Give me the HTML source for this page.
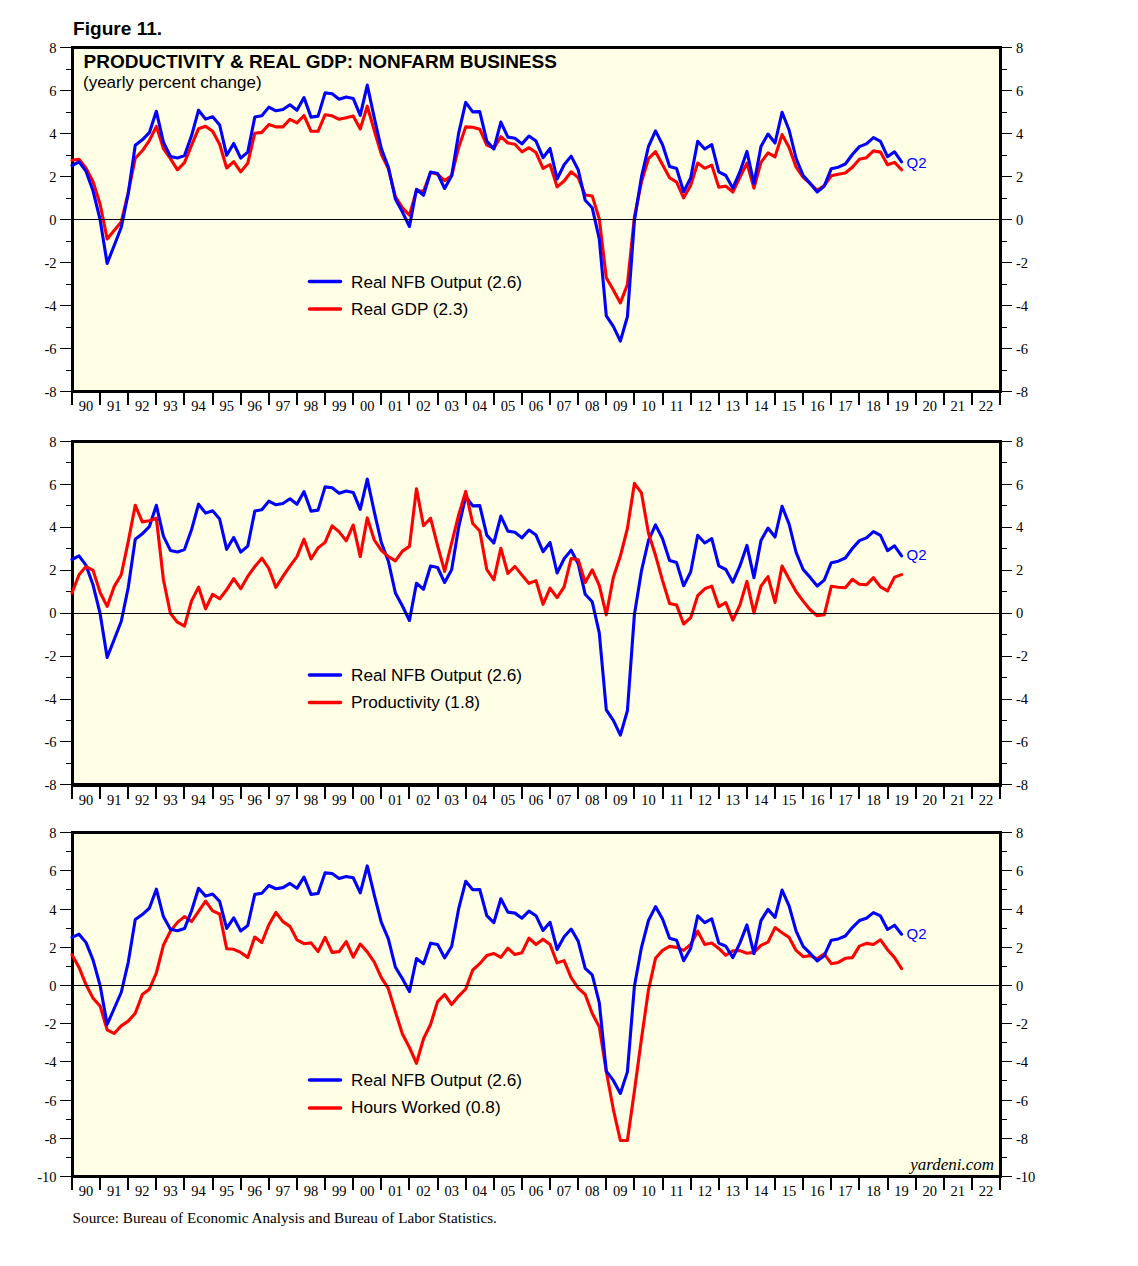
<!DOCTYPE html><html><head><meta charset="utf-8"><style>html,body{margin:0;padding:0;background:#fff;width:1138px;height:1266px;overflow:hidden}svg{display:block}</style></head><body>
<svg width="1138" height="1266" viewBox="0 0 1138 1266">
<text x="73" y="35" font-family="Liberation Sans, sans-serif" font-weight="bold" font-size="19.1">Figure 11.</text>
<rect x="72" y="49" width="927" height="341" fill="#FFFFE6"/>
<rect x="71" y="46" width="931" height="3" fill="#000"/>
<rect x="71" y="390" width="931" height="3" fill="#000"/>
<rect x="71" y="46" width="3" height="347" fill="#000"/>
<rect x="999" y="46" width="3" height="347" fill="#000"/>
<rect x="60" y="47" width="12" height="1" fill="#000"/>
<rect x="1001" y="47" width="11" height="1" fill="#000"/>
<text x="56.5" y="52.80" text-anchor="end" font-family="Liberation Serif, serif" font-size="14.5">8</text>
<text x="1016" y="52.80" font-family="Liberation Serif, serif" font-size="14.5">8</text>
<rect x="66" y="69" width="6" height="1" fill="#000"/>
<rect x="1001" y="69" width="6" height="1" fill="#000"/>
<rect x="60" y="90" width="12" height="1" fill="#000"/>
<rect x="1001" y="90" width="11" height="1" fill="#000"/>
<text x="56.5" y="95.80" text-anchor="end" font-family="Liberation Serif, serif" font-size="14.5">6</text>
<text x="1016" y="95.80" font-family="Liberation Serif, serif" font-size="14.5">6</text>
<rect x="66" y="112" width="6" height="1" fill="#000"/>
<rect x="1001" y="112" width="6" height="1" fill="#000"/>
<rect x="60" y="133" width="12" height="1" fill="#000"/>
<rect x="1001" y="133" width="11" height="1" fill="#000"/>
<text x="56.5" y="138.80" text-anchor="end" font-family="Liberation Serif, serif" font-size="14.5">4</text>
<text x="1016" y="138.80" font-family="Liberation Serif, serif" font-size="14.5">4</text>
<rect x="66" y="155" width="6" height="1" fill="#000"/>
<rect x="1001" y="155" width="6" height="1" fill="#000"/>
<rect x="60" y="176" width="12" height="1" fill="#000"/>
<rect x="1001" y="176" width="11" height="1" fill="#000"/>
<text x="56.5" y="181.80" text-anchor="end" font-family="Liberation Serif, serif" font-size="14.5">2</text>
<text x="1016" y="181.80" font-family="Liberation Serif, serif" font-size="14.5">2</text>
<rect x="66" y="198" width="6" height="1" fill="#000"/>
<rect x="1001" y="198" width="6" height="1" fill="#000"/>
<rect x="60" y="219" width="12" height="1" fill="#000"/>
<rect x="1001" y="219" width="11" height="1" fill="#000"/>
<text x="56.5" y="224.80" text-anchor="end" font-family="Liberation Serif, serif" font-size="14.5">0</text>
<text x="1016" y="224.80" font-family="Liberation Serif, serif" font-size="14.5">0</text>
<rect x="66" y="241" width="6" height="1" fill="#000"/>
<rect x="1001" y="241" width="6" height="1" fill="#000"/>
<rect x="60" y="262" width="12" height="1" fill="#000"/>
<rect x="1001" y="262" width="11" height="1" fill="#000"/>
<text x="56.5" y="267.80" text-anchor="end" font-family="Liberation Serif, serif" font-size="14.5">-2</text>
<text x="1016" y="267.80" font-family="Liberation Serif, serif" font-size="14.5">-2</text>
<rect x="66" y="284" width="6" height="1" fill="#000"/>
<rect x="1001" y="284" width="6" height="1" fill="#000"/>
<rect x="60" y="305" width="12" height="1" fill="#000"/>
<rect x="1001" y="305" width="11" height="1" fill="#000"/>
<text x="56.5" y="310.80" text-anchor="end" font-family="Liberation Serif, serif" font-size="14.5">-4</text>
<text x="1016" y="310.80" font-family="Liberation Serif, serif" font-size="14.5">-4</text>
<rect x="66" y="327" width="6" height="1" fill="#000"/>
<rect x="1001" y="327" width="6" height="1" fill="#000"/>
<rect x="60" y="348" width="12" height="1" fill="#000"/>
<rect x="1001" y="348" width="11" height="1" fill="#000"/>
<text x="56.5" y="353.80" text-anchor="end" font-family="Liberation Serif, serif" font-size="14.5">-6</text>
<text x="1016" y="353.80" font-family="Liberation Serif, serif" font-size="14.5">-6</text>
<rect x="66" y="370" width="6" height="1" fill="#000"/>
<rect x="1001" y="370" width="6" height="1" fill="#000"/>
<rect x="60" y="391" width="12" height="1" fill="#000"/>
<rect x="1001" y="391" width="11" height="1" fill="#000"/>
<text x="56.5" y="396.80" text-anchor="end" font-family="Liberation Serif, serif" font-size="14.5">-8</text>
<text x="1016" y="396.80" font-family="Liberation Serif, serif" font-size="14.5">-8</text>
<rect x="71" y="393" width="2" height="12" fill="#000"/>
<text x="86.06" y="411" text-anchor="middle" font-family="Liberation Serif, serif" font-size="14.5">90</text>
<rect x="99" y="393" width="2" height="12" fill="#000"/>
<text x="114.18" y="411" text-anchor="middle" font-family="Liberation Serif, serif" font-size="14.5">91</text>
<rect x="127" y="393" width="2" height="12" fill="#000"/>
<text x="142.30" y="411" text-anchor="middle" font-family="Liberation Serif, serif" font-size="14.5">92</text>
<rect x="155" y="393" width="2" height="12" fill="#000"/>
<text x="170.42" y="411" text-anchor="middle" font-family="Liberation Serif, serif" font-size="14.5">93</text>
<rect x="183" y="393" width="2" height="12" fill="#000"/>
<text x="198.54" y="411" text-anchor="middle" font-family="Liberation Serif, serif" font-size="14.5">94</text>
<rect x="212" y="393" width="2" height="12" fill="#000"/>
<text x="226.67" y="411" text-anchor="middle" font-family="Liberation Serif, serif" font-size="14.5">95</text>
<rect x="240" y="393" width="2" height="12" fill="#000"/>
<text x="254.79" y="411" text-anchor="middle" font-family="Liberation Serif, serif" font-size="14.5">96</text>
<rect x="268" y="393" width="2" height="12" fill="#000"/>
<text x="282.91" y="411" text-anchor="middle" font-family="Liberation Serif, serif" font-size="14.5">97</text>
<rect x="296" y="393" width="2" height="12" fill="#000"/>
<text x="311.03" y="411" text-anchor="middle" font-family="Liberation Serif, serif" font-size="14.5">98</text>
<rect x="324" y="393" width="2" height="12" fill="#000"/>
<text x="339.15" y="411" text-anchor="middle" font-family="Liberation Serif, serif" font-size="14.5">99</text>
<rect x="352" y="393" width="2" height="12" fill="#000"/>
<text x="367.27" y="411" text-anchor="middle" font-family="Liberation Serif, serif" font-size="14.5">00</text>
<rect x="380" y="393" width="2" height="12" fill="#000"/>
<text x="395.39" y="411" text-anchor="middle" font-family="Liberation Serif, serif" font-size="14.5">01</text>
<rect x="408" y="393" width="2" height="12" fill="#000"/>
<text x="423.51" y="411" text-anchor="middle" font-family="Liberation Serif, serif" font-size="14.5">02</text>
<rect x="437" y="393" width="2" height="12" fill="#000"/>
<text x="451.64" y="411" text-anchor="middle" font-family="Liberation Serif, serif" font-size="14.5">03</text>
<rect x="465" y="393" width="2" height="12" fill="#000"/>
<text x="479.76" y="411" text-anchor="middle" font-family="Liberation Serif, serif" font-size="14.5">04</text>
<rect x="493" y="393" width="2" height="12" fill="#000"/>
<text x="507.88" y="411" text-anchor="middle" font-family="Liberation Serif, serif" font-size="14.5">05</text>
<rect x="521" y="393" width="2" height="12" fill="#000"/>
<text x="536.00" y="411" text-anchor="middle" font-family="Liberation Serif, serif" font-size="14.5">06</text>
<rect x="549" y="393" width="2" height="12" fill="#000"/>
<text x="564.12" y="411" text-anchor="middle" font-family="Liberation Serif, serif" font-size="14.5">07</text>
<rect x="577" y="393" width="2" height="12" fill="#000"/>
<text x="592.24" y="411" text-anchor="middle" font-family="Liberation Serif, serif" font-size="14.5">08</text>
<rect x="605" y="393" width="2" height="12" fill="#000"/>
<text x="620.36" y="411" text-anchor="middle" font-family="Liberation Serif, serif" font-size="14.5">09</text>
<rect x="633" y="393" width="2" height="12" fill="#000"/>
<text x="648.48" y="411" text-anchor="middle" font-family="Liberation Serif, serif" font-size="14.5">10</text>
<rect x="662" y="393" width="2" height="12" fill="#000"/>
<text x="676.61" y="411" text-anchor="middle" font-family="Liberation Serif, serif" font-size="14.5">11</text>
<rect x="690" y="393" width="2" height="12" fill="#000"/>
<text x="704.73" y="411" text-anchor="middle" font-family="Liberation Serif, serif" font-size="14.5">12</text>
<rect x="718" y="393" width="2" height="12" fill="#000"/>
<text x="732.85" y="411" text-anchor="middle" font-family="Liberation Serif, serif" font-size="14.5">13</text>
<rect x="746" y="393" width="2" height="12" fill="#000"/>
<text x="760.97" y="411" text-anchor="middle" font-family="Liberation Serif, serif" font-size="14.5">14</text>
<rect x="774" y="393" width="2" height="12" fill="#000"/>
<text x="789.09" y="411" text-anchor="middle" font-family="Liberation Serif, serif" font-size="14.5">15</text>
<rect x="802" y="393" width="2" height="12" fill="#000"/>
<text x="817.21" y="411" text-anchor="middle" font-family="Liberation Serif, serif" font-size="14.5">16</text>
<rect x="830" y="393" width="2" height="12" fill="#000"/>
<text x="845.33" y="411" text-anchor="middle" font-family="Liberation Serif, serif" font-size="14.5">17</text>
<rect x="858" y="393" width="2" height="12" fill="#000"/>
<text x="873.45" y="411" text-anchor="middle" font-family="Liberation Serif, serif" font-size="14.5">18</text>
<rect x="887" y="393" width="2" height="12" fill="#000"/>
<text x="901.58" y="411" text-anchor="middle" font-family="Liberation Serif, serif" font-size="14.5">19</text>
<rect x="915" y="393" width="2" height="12" fill="#000"/>
<text x="929.70" y="411" text-anchor="middle" font-family="Liberation Serif, serif" font-size="14.5">20</text>
<rect x="943" y="393" width="2" height="12" fill="#000"/>
<text x="957.82" y="411" text-anchor="middle" font-family="Liberation Serif, serif" font-size="14.5">21</text>
<rect x="971" y="393" width="2" height="12" fill="#000"/>
<text x="985.94" y="411" text-anchor="middle" font-family="Liberation Serif, serif" font-size="14.5">22</text>
<rect x="999" y="393" width="2" height="12" fill="#000"/>
<path d="M72.00,160.30 L79.03,159.20 L86.06,168.10 L93.09,181.70 L100.12,204.30 L107.15,238.90 L114.18,230.50 L121.21,222.00 L128.24,192.50 L135.27,158.30 L142.30,150.80 L149.33,140.60 L156.36,126.40 L163.39,148.50 L170.42,158.70 L177.45,169.80 L184.48,162.70 L191.52,145.30 L198.55,128.70 L205.58,126.20 L212.61,131.30 L219.64,144.20 L226.67,168.00 L233.70,161.60 L240.73,171.90 L247.76,163.20 L254.79,133.20 L261.82,132.40 L268.85,124.50 L275.88,126.90 L282.91,126.90 L289.94,119.30 L296.97,122.90 L304.00,115.50 L311.03,131.30 L318.06,131.30 L325.09,114.70 L332.12,115.80 L339.15,119.30 L346.18,117.80 L353.21,116.10 L360.24,129.00 L367.27,106.20 L374.30,130.50 L381.33,154.30 L388.36,168.60 L395.39,196.60 L402.42,207.90 L409.45,215.20 L416.48,190.50 L423.52,191.40 L430.55,172.50 L437.58,174.20 L444.61,180.60 L451.64,175.80 L458.67,147.40 L465.70,126.90 L472.73,127.20 L479.76,129.20 L486.79,145.00 L493.82,148.20 L500.85,136.70 L507.88,143.00 L514.91,144.20 L521.94,151.80 L528.97,147.70 L536.00,152.50 L543.03,168.30 L550.06,164.50 L557.09,186.90 L564.12,181.00 L571.15,171.80 L578.18,177.60 L585.21,195.00 L592.24,196.00 L599.27,218.90 L606.30,277.70 L613.33,289.90 L620.36,302.90 L627.39,284.60 L634.42,216.90 L641.45,182.10 L648.48,158.70 L655.52,151.70 L662.55,164.80 L669.58,177.80 L676.61,182.10 L683.64,197.80 L690.67,185.40 L697.70,163.00 L704.73,168.30 L711.76,165.10 L718.79,187.20 L725.82,186.10 L732.85,192.00 L739.88,177.40 L746.91,163.20 L753.94,188.20 L760.97,162.40 L768.00,152.90 L775.03,156.90 L782.06,134.50 L789.09,147.40 L796.12,167.20 L803.15,177.40 L810.18,183.70 L817.21,190.40 L824.24,185.60 L831.27,175.80 L838.30,174.30 L845.33,173.00 L852.36,167.20 L859.39,159.30 L866.42,157.70 L873.45,150.90 L880.48,152.10 L887.52,164.80 L894.55,162.40 L901.58,169.80" fill="none" stroke="#f00" stroke-width="3.1" stroke-linejoin="round" stroke-linecap="round"/>
<path d="M72.00,165.50 L79.03,161.90 L86.06,171.40 L93.09,191.10 L100.12,219.70 L107.15,263.50 L114.18,245.50 L121.21,227.50 L128.24,193.50 L135.27,145.30 L142.30,139.80 L149.33,132.70 L156.36,111.30 L163.39,142.10 L170.42,156.40 L177.45,158.00 L184.48,155.60 L191.52,135.80 L198.55,110.20 L205.58,119.10 L212.61,116.70 L219.64,125.00 L226.67,155.30 L233.70,143.50 L240.73,158.20 L247.76,152.10 L254.79,117.10 L261.82,115.80 L268.85,107.10 L275.88,110.80 L282.91,109.50 L289.94,104.80 L296.97,110.30 L304.00,97.60 L311.03,117.10 L318.06,116.10 L325.09,92.90 L332.12,93.70 L339.15,99.20 L346.18,97.00 L353.21,98.40 L360.24,115.40 L367.27,85.10 L374.30,117.90 L381.33,148.50 L388.36,167.20 L395.39,199.00 L402.42,212.00 L409.45,226.50 L416.48,189.30 L423.52,195.30 L430.55,172.00 L437.58,173.50 L444.61,188.50 L451.64,175.80 L458.67,133.20 L465.70,102.40 L472.73,111.90 L479.76,111.60 L486.79,141.10 L493.82,149.00 L500.85,122.10 L507.88,137.10 L514.91,138.20 L521.94,143.90 L528.97,136.00 L536.00,141.10 L543.03,157.70 L550.06,148.50 L557.09,179.00 L564.12,164.80 L571.15,156.10 L578.18,169.70 L585.21,200.30 L592.24,207.80 L599.27,238.80 L606.30,315.90 L613.33,326.40 L620.36,341.10 L627.39,316.80 L634.42,220.40 L641.45,176.90 L648.48,146.50 L655.52,130.90 L662.55,144.80 L669.58,166.50 L676.61,168.60 L683.64,191.70 L690.67,178.00 L697.70,141.20 L704.73,149.00 L711.76,144.60 L718.79,171.90 L725.82,175.50 L732.85,188.20 L739.88,171.90 L746.91,151.40 L753.94,183.70 L760.97,146.60 L768.00,134.00 L775.03,143.00 L782.06,112.30 L789.09,130.00 L796.12,158.50 L803.15,175.50 L810.18,183.40 L817.21,192.00 L824.24,186.10 L831.27,168.70 L838.30,167.20 L845.33,164.00 L852.36,154.50 L859.39,146.60 L866.42,143.90 L873.45,137.60 L880.48,141.40 L887.52,156.60 L894.55,151.80 L901.58,161.90" fill="none" stroke="#00f" stroke-width="3.1" stroke-linejoin="round" stroke-linecap="round"/>
<rect x="74" y="219" width="925" height="1" fill="#000"/>
<line x1="309.5" y1="281.5" x2="340.5" y2="281.5" stroke="#00f" stroke-width="3.6" stroke-linecap="round"/>
<line x1="309.5" y1="309" x2="340.5" y2="309" stroke="#f00" stroke-width="3.6" stroke-linecap="round"/>
<text x="351" y="288" font-family="Liberation Sans, sans-serif" font-size="17.2">Real NFB Output (2.6)</text>
<text x="351" y="315" font-family="Liberation Sans, sans-serif" font-size="17.2">Real GDP (2.3)</text>
<text x="906.5" y="167.7" font-family="Liberation Sans, sans-serif" font-size="15" fill="#00f">Q2</text>
<text x="83.6" y="67.7" font-family="Liberation Sans, sans-serif" font-weight="bold" font-size="19">PRODUCTIVITY &amp; REAL GDP: NONFARM BUSINESS</text>
<text x="83" y="87.9" font-family="Liberation Sans, sans-serif" font-size="17">(yearly percent change)</text>
<rect x="72" y="443" width="927" height="340" fill="#FFFFE6"/>
<rect x="71" y="440" width="931" height="3" fill="#000"/>
<rect x="71" y="783" width="931" height="4" fill="#000"/>
<rect x="71" y="440" width="3" height="347" fill="#000"/>
<rect x="999" y="440" width="3" height="347" fill="#000"/>
<rect x="60" y="441" width="12" height="1" fill="#000"/>
<rect x="1001" y="441" width="11" height="1" fill="#000"/>
<text x="56.5" y="446.80" text-anchor="end" font-family="Liberation Serif, serif" font-size="14.5">8</text>
<text x="1016" y="446.80" font-family="Liberation Serif, serif" font-size="14.5">8</text>
<rect x="66" y="462" width="6" height="1" fill="#000"/>
<rect x="1001" y="462" width="6" height="1" fill="#000"/>
<rect x="60" y="484" width="12" height="1" fill="#000"/>
<rect x="1001" y="484" width="11" height="1" fill="#000"/>
<text x="56.5" y="489.70" text-anchor="end" font-family="Liberation Serif, serif" font-size="14.5">6</text>
<text x="1016" y="489.70" font-family="Liberation Serif, serif" font-size="14.5">6</text>
<rect x="66" y="505" width="6" height="1" fill="#000"/>
<rect x="1001" y="505" width="6" height="1" fill="#000"/>
<rect x="60" y="527" width="12" height="1" fill="#000"/>
<rect x="1001" y="527" width="11" height="1" fill="#000"/>
<text x="56.5" y="531.80" text-anchor="end" font-family="Liberation Serif, serif" font-size="14.5">4</text>
<text x="1016" y="531.80" font-family="Liberation Serif, serif" font-size="14.5">4</text>
<rect x="66" y="548" width="6" height="1" fill="#000"/>
<rect x="1001" y="548" width="6" height="1" fill="#000"/>
<rect x="60" y="570" width="12" height="1" fill="#000"/>
<rect x="1001" y="570" width="11" height="1" fill="#000"/>
<text x="56.5" y="574.70" text-anchor="end" font-family="Liberation Serif, serif" font-size="14.5">2</text>
<text x="1016" y="574.70" font-family="Liberation Serif, serif" font-size="14.5">2</text>
<rect x="66" y="591" width="6" height="1" fill="#000"/>
<rect x="1001" y="591" width="6" height="1" fill="#000"/>
<rect x="60" y="613" width="12" height="1" fill="#000"/>
<rect x="1001" y="613" width="11" height="1" fill="#000"/>
<text x="56.5" y="617.80" text-anchor="end" font-family="Liberation Serif, serif" font-size="14.5">0</text>
<text x="1016" y="617.80" font-family="Liberation Serif, serif" font-size="14.5">0</text>
<rect x="66" y="634" width="6" height="1" fill="#000"/>
<rect x="1001" y="634" width="6" height="1" fill="#000"/>
<rect x="60" y="656" width="12" height="1" fill="#000"/>
<rect x="1001" y="656" width="11" height="1" fill="#000"/>
<text x="56.5" y="660.70" text-anchor="end" font-family="Liberation Serif, serif" font-size="14.5">-2</text>
<text x="1016" y="660.70" font-family="Liberation Serif, serif" font-size="14.5">-2</text>
<rect x="66" y="677" width="6" height="1" fill="#000"/>
<rect x="1001" y="677" width="6" height="1" fill="#000"/>
<rect x="60" y="699" width="12" height="1" fill="#000"/>
<rect x="1001" y="699" width="11" height="1" fill="#000"/>
<text x="56.5" y="703.80" text-anchor="end" font-family="Liberation Serif, serif" font-size="14.5">-4</text>
<text x="1016" y="703.80" font-family="Liberation Serif, serif" font-size="14.5">-4</text>
<rect x="66" y="720" width="6" height="1" fill="#000"/>
<rect x="1001" y="720" width="6" height="1" fill="#000"/>
<rect x="60" y="741" width="12" height="1" fill="#000"/>
<rect x="1001" y="741" width="11" height="1" fill="#000"/>
<text x="56.5" y="746.70" text-anchor="end" font-family="Liberation Serif, serif" font-size="14.5">-6</text>
<text x="1016" y="746.70" font-family="Liberation Serif, serif" font-size="14.5">-6</text>
<rect x="66" y="763" width="6" height="1" fill="#000"/>
<rect x="1001" y="763" width="6" height="1" fill="#000"/>
<rect x="60" y="784" width="12" height="1" fill="#000"/>
<rect x="1001" y="784" width="11" height="1" fill="#000"/>
<text x="56.5" y="789.90" text-anchor="end" font-family="Liberation Serif, serif" font-size="14.5">-8</text>
<text x="1016" y="789.90" font-family="Liberation Serif, serif" font-size="14.5">-8</text>
<rect x="71" y="787" width="2" height="12" fill="#000"/>
<text x="86.06" y="805" text-anchor="middle" font-family="Liberation Serif, serif" font-size="14.5">90</text>
<rect x="99" y="787" width="2" height="12" fill="#000"/>
<text x="114.18" y="805" text-anchor="middle" font-family="Liberation Serif, serif" font-size="14.5">91</text>
<rect x="127" y="787" width="2" height="12" fill="#000"/>
<text x="142.30" y="805" text-anchor="middle" font-family="Liberation Serif, serif" font-size="14.5">92</text>
<rect x="155" y="787" width="2" height="12" fill="#000"/>
<text x="170.42" y="805" text-anchor="middle" font-family="Liberation Serif, serif" font-size="14.5">93</text>
<rect x="183" y="787" width="2" height="12" fill="#000"/>
<text x="198.54" y="805" text-anchor="middle" font-family="Liberation Serif, serif" font-size="14.5">94</text>
<rect x="212" y="787" width="2" height="12" fill="#000"/>
<text x="226.67" y="805" text-anchor="middle" font-family="Liberation Serif, serif" font-size="14.5">95</text>
<rect x="240" y="787" width="2" height="12" fill="#000"/>
<text x="254.79" y="805" text-anchor="middle" font-family="Liberation Serif, serif" font-size="14.5">96</text>
<rect x="268" y="787" width="2" height="12" fill="#000"/>
<text x="282.91" y="805" text-anchor="middle" font-family="Liberation Serif, serif" font-size="14.5">97</text>
<rect x="296" y="787" width="2" height="12" fill="#000"/>
<text x="311.03" y="805" text-anchor="middle" font-family="Liberation Serif, serif" font-size="14.5">98</text>
<rect x="324" y="787" width="2" height="12" fill="#000"/>
<text x="339.15" y="805" text-anchor="middle" font-family="Liberation Serif, serif" font-size="14.5">99</text>
<rect x="352" y="787" width="2" height="12" fill="#000"/>
<text x="367.27" y="805" text-anchor="middle" font-family="Liberation Serif, serif" font-size="14.5">00</text>
<rect x="380" y="787" width="2" height="12" fill="#000"/>
<text x="395.39" y="805" text-anchor="middle" font-family="Liberation Serif, serif" font-size="14.5">01</text>
<rect x="408" y="787" width="2" height="12" fill="#000"/>
<text x="423.51" y="805" text-anchor="middle" font-family="Liberation Serif, serif" font-size="14.5">02</text>
<rect x="437" y="787" width="2" height="12" fill="#000"/>
<text x="451.64" y="805" text-anchor="middle" font-family="Liberation Serif, serif" font-size="14.5">03</text>
<rect x="465" y="787" width="2" height="12" fill="#000"/>
<text x="479.76" y="805" text-anchor="middle" font-family="Liberation Serif, serif" font-size="14.5">04</text>
<rect x="493" y="787" width="2" height="12" fill="#000"/>
<text x="507.88" y="805" text-anchor="middle" font-family="Liberation Serif, serif" font-size="14.5">05</text>
<rect x="521" y="787" width="2" height="12" fill="#000"/>
<text x="536.00" y="805" text-anchor="middle" font-family="Liberation Serif, serif" font-size="14.5">06</text>
<rect x="549" y="787" width="2" height="12" fill="#000"/>
<text x="564.12" y="805" text-anchor="middle" font-family="Liberation Serif, serif" font-size="14.5">07</text>
<rect x="577" y="787" width="2" height="12" fill="#000"/>
<text x="592.24" y="805" text-anchor="middle" font-family="Liberation Serif, serif" font-size="14.5">08</text>
<rect x="605" y="787" width="2" height="12" fill="#000"/>
<text x="620.36" y="805" text-anchor="middle" font-family="Liberation Serif, serif" font-size="14.5">09</text>
<rect x="633" y="787" width="2" height="12" fill="#000"/>
<text x="648.48" y="805" text-anchor="middle" font-family="Liberation Serif, serif" font-size="14.5">10</text>
<rect x="662" y="787" width="2" height="12" fill="#000"/>
<text x="676.61" y="805" text-anchor="middle" font-family="Liberation Serif, serif" font-size="14.5">11</text>
<rect x="690" y="787" width="2" height="12" fill="#000"/>
<text x="704.73" y="805" text-anchor="middle" font-family="Liberation Serif, serif" font-size="14.5">12</text>
<rect x="718" y="787" width="2" height="12" fill="#000"/>
<text x="732.85" y="805" text-anchor="middle" font-family="Liberation Serif, serif" font-size="14.5">13</text>
<rect x="746" y="787" width="2" height="12" fill="#000"/>
<text x="760.97" y="805" text-anchor="middle" font-family="Liberation Serif, serif" font-size="14.5">14</text>
<rect x="774" y="787" width="2" height="12" fill="#000"/>
<text x="789.09" y="805" text-anchor="middle" font-family="Liberation Serif, serif" font-size="14.5">15</text>
<rect x="802" y="787" width="2" height="12" fill="#000"/>
<text x="817.21" y="805" text-anchor="middle" font-family="Liberation Serif, serif" font-size="14.5">16</text>
<rect x="830" y="787" width="2" height="12" fill="#000"/>
<text x="845.33" y="805" text-anchor="middle" font-family="Liberation Serif, serif" font-size="14.5">17</text>
<rect x="858" y="787" width="2" height="12" fill="#000"/>
<text x="873.45" y="805" text-anchor="middle" font-family="Liberation Serif, serif" font-size="14.5">18</text>
<rect x="887" y="787" width="2" height="12" fill="#000"/>
<text x="901.58" y="805" text-anchor="middle" font-family="Liberation Serif, serif" font-size="14.5">19</text>
<rect x="915" y="787" width="2" height="12" fill="#000"/>
<text x="929.70" y="805" text-anchor="middle" font-family="Liberation Serif, serif" font-size="14.5">20</text>
<rect x="943" y="787" width="2" height="12" fill="#000"/>
<text x="957.82" y="805" text-anchor="middle" font-family="Liberation Serif, serif" font-size="14.5">21</text>
<rect x="971" y="787" width="2" height="12" fill="#000"/>
<text x="985.94" y="805" text-anchor="middle" font-family="Liberation Serif, serif" font-size="14.5">22</text>
<rect x="999" y="787" width="2" height="12" fill="#000"/>
<path d="M72.00,559.50 L79.03,555.90 L86.06,565.40 L93.09,585.10 L100.12,613.70 L107.15,657.50 L114.18,639.50 L121.21,621.50 L128.24,587.50 L135.27,539.30 L142.30,533.80 L149.33,526.70 L156.36,505.30 L163.39,536.10 L170.42,550.40 L177.45,552.00 L184.48,549.60 L191.52,529.80 L198.55,504.20 L205.58,513.10 L212.61,510.70 L219.64,519.00 L226.67,549.30 L233.70,537.50 L240.73,552.20 L247.76,546.10 L254.79,511.10 L261.82,509.80 L268.85,501.10 L275.88,504.80 L282.91,503.50 L289.94,498.80 L296.97,504.30 L304.00,491.60 L311.03,511.10 L318.06,510.10 L325.09,486.90 L332.12,487.70 L339.15,493.20 L346.18,491.00 L353.21,492.40 L360.24,509.40 L367.27,479.10 L374.30,511.90 L381.33,542.50 L388.36,561.20 L395.39,593.00 L402.42,606.00 L409.45,620.50 L416.48,583.30 L423.52,589.30 L430.55,566.00 L437.58,567.50 L444.61,582.50 L451.64,569.80 L458.67,527.20 L465.70,496.40 L472.73,505.90 L479.76,505.60 L486.79,535.10 L493.82,543.00 L500.85,516.10 L507.88,531.10 L514.91,532.20 L521.94,537.90 L528.97,530.00 L536.00,535.10 L543.03,551.70 L550.06,542.50 L557.09,573.00 L564.12,558.80 L571.15,550.10 L578.18,563.70 L585.21,594.30 L592.24,601.80 L599.27,632.80 L606.30,709.90 L613.33,720.40 L620.36,735.10 L627.39,710.80 L634.42,614.40 L641.45,570.90 L648.48,540.50 L655.52,524.90 L662.55,538.80 L669.58,560.50 L676.61,562.60 L683.64,585.70 L690.67,572.00 L697.70,535.20 L704.73,543.00 L711.76,538.60 L718.79,565.90 L725.82,569.50 L732.85,582.20 L739.88,565.90 L746.91,545.40 L753.94,577.70 L760.97,540.60 L768.00,528.00 L775.03,537.00 L782.06,506.30 L789.09,524.00 L796.12,552.50 L803.15,569.50 L810.18,577.40 L817.21,586.00 L824.24,580.10 L831.27,562.70 L838.30,561.20 L845.33,558.00 L852.36,548.50 L859.39,540.60 L866.42,537.90 L873.45,531.60 L880.48,535.40 L887.52,550.60 L894.55,545.80 L901.58,555.90" fill="none" stroke="#00f" stroke-width="3.1" stroke-linejoin="round" stroke-linecap="round"/>
<path d="M72.00,593.00 L79.03,574.80 L86.06,566.60 L93.09,570.40 L100.12,592.50 L107.15,606.40 L114.18,586.60 L121.21,574.80 L128.24,541.60 L135.27,505.30 L142.30,521.90 L149.33,520.80 L156.36,518.20 L163.39,579.50 L170.42,613.50 L177.45,622.20 L184.48,626.10 L191.52,600.90 L198.55,587.10 L205.58,608.80 L212.61,594.30 L219.64,598.80 L226.67,589.80 L233.70,578.70 L240.73,588.70 L247.76,576.40 L254.79,566.60 L261.82,558.20 L268.85,568.50 L275.88,587.40 L282.91,576.40 L289.94,566.10 L296.97,556.60 L304.00,539.20 L311.03,559.00 L318.06,547.90 L325.09,542.40 L332.12,525.80 L339.15,531.90 L346.18,540.80 L353.21,525.00 L360.24,556.60 L367.27,517.90 L374.30,540.00 L381.33,550.30 L388.36,556.60 L395.39,560.90 L402.42,551.10 L409.45,546.40 L416.48,488.70 L423.52,525.80 L430.55,518.20 L437.58,545.60 L444.61,571.30 L451.64,543.00 L458.67,515.00 L465.70,491.40 L472.73,523.50 L479.76,531.00 L486.79,569.50 L493.82,579.80 L500.85,548.20 L507.88,573.50 L514.91,566.40 L521.94,575.10 L528.97,583.40 L536.00,580.60 L543.03,604.30 L550.06,588.20 L557.09,597.60 L564.12,586.90 L571.15,558.50 L578.18,559.70 L585.21,582.50 L592.24,569.80 L599.27,585.30 L606.30,614.80 L613.33,577.40 L620.36,556.10 L627.39,528.50 L634.42,483.40 L641.45,492.90 L648.48,533.20 L655.52,555.30 L662.55,580.60 L669.58,603.50 L676.61,605.10 L683.64,624.00 L690.67,617.70 L697.70,595.60 L704.73,588.80 L711.76,586.10 L718.79,606.70 L725.82,602.70 L732.85,620.10 L739.88,605.10 L746.91,581.40 L753.94,613.00 L760.97,586.10 L768.00,576.60 L775.03,602.40 L782.06,566.10 L789.09,579.00 L796.12,591.60 L803.15,601.10 L810.18,609.80 L817.21,615.70 L824.24,614.80 L831.27,586.30 L838.30,587.20 L845.33,587.70 L852.36,579.30 L859.39,584.30 L866.42,584.80 L873.45,577.70 L880.48,586.90 L887.52,590.90 L894.55,577.10 L901.58,574.60" fill="none" stroke="#f00" stroke-width="3.1" stroke-linejoin="round" stroke-linecap="round"/>
<rect x="74" y="613" width="925" height="1" fill="#000"/>
<line x1="309.5" y1="675" x2="340.5" y2="675" stroke="#00f" stroke-width="3.6" stroke-linecap="round"/>
<line x1="309.5" y1="702.5" x2="340.5" y2="702.5" stroke="#f00" stroke-width="3.6" stroke-linecap="round"/>
<text x="351" y="680.7" font-family="Liberation Sans, sans-serif" font-size="17.2">Real NFB Output (2.6)</text>
<text x="351" y="707.8" font-family="Liberation Sans, sans-serif" font-size="17.2">Productivity (1.8)</text>
<text x="906.5" y="560.3" font-family="Liberation Sans, sans-serif" font-size="15" fill="#00f">Q2</text>
<rect x="72" y="834" width="927" height="341" fill="#FFFFE6"/>
<rect x="71" y="831" width="931" height="3" fill="#000"/>
<rect x="71" y="1175" width="931" height="3" fill="#000"/>
<rect x="71" y="831" width="3" height="347" fill="#000"/>
<rect x="999" y="831" width="3" height="347" fill="#000"/>
<rect x="60" y="832" width="12" height="1" fill="#000"/>
<rect x="1001" y="832" width="11" height="1" fill="#000"/>
<text x="56.5" y="837.80" text-anchor="end" font-family="Liberation Serif, serif" font-size="14.5">8</text>
<text x="1016" y="837.80" font-family="Liberation Serif, serif" font-size="14.5">8</text>
<rect x="66" y="851" width="6" height="1" fill="#000"/>
<rect x="1001" y="851" width="6" height="1" fill="#000"/>
<rect x="60" y="870" width="12" height="1" fill="#000"/>
<rect x="1001" y="870" width="11" height="1" fill="#000"/>
<text x="56.5" y="875.80" text-anchor="end" font-family="Liberation Serif, serif" font-size="14.5">6</text>
<text x="1016" y="875.80" font-family="Liberation Serif, serif" font-size="14.5">6</text>
<rect x="66" y="889" width="6" height="1" fill="#000"/>
<rect x="1001" y="889" width="6" height="1" fill="#000"/>
<rect x="60" y="909" width="12" height="1" fill="#000"/>
<rect x="1001" y="909" width="11" height="1" fill="#000"/>
<text x="56.5" y="914.80" text-anchor="end" font-family="Liberation Serif, serif" font-size="14.5">4</text>
<text x="1016" y="914.80" font-family="Liberation Serif, serif" font-size="14.5">4</text>
<rect x="66" y="928" width="6" height="1" fill="#000"/>
<rect x="1001" y="928" width="6" height="1" fill="#000"/>
<rect x="60" y="947" width="12" height="1" fill="#000"/>
<rect x="1001" y="947" width="11" height="1" fill="#000"/>
<text x="56.5" y="952.80" text-anchor="end" font-family="Liberation Serif, serif" font-size="14.5">2</text>
<text x="1016" y="952.80" font-family="Liberation Serif, serif" font-size="14.5">2</text>
<rect x="66" y="966" width="6" height="1" fill="#000"/>
<rect x="1001" y="966" width="6" height="1" fill="#000"/>
<rect x="60" y="985" width="12" height="1" fill="#000"/>
<rect x="1001" y="985" width="11" height="1" fill="#000"/>
<text x="56.5" y="990.80" text-anchor="end" font-family="Liberation Serif, serif" font-size="14.5">0</text>
<text x="1016" y="990.80" font-family="Liberation Serif, serif" font-size="14.5">0</text>
<rect x="66" y="1004" width="6" height="1" fill="#000"/>
<rect x="1001" y="1004" width="6" height="1" fill="#000"/>
<rect x="60" y="1023" width="12" height="1" fill="#000"/>
<rect x="1001" y="1023" width="11" height="1" fill="#000"/>
<text x="56.5" y="1028.80" text-anchor="end" font-family="Liberation Serif, serif" font-size="14.5">-2</text>
<text x="1016" y="1028.80" font-family="Liberation Serif, serif" font-size="14.5">-2</text>
<rect x="66" y="1042" width="6" height="1" fill="#000"/>
<rect x="1001" y="1042" width="6" height="1" fill="#000"/>
<rect x="60" y="1061" width="12" height="1" fill="#000"/>
<rect x="1001" y="1061" width="11" height="1" fill="#000"/>
<text x="56.5" y="1066.80" text-anchor="end" font-family="Liberation Serif, serif" font-size="14.5">-4</text>
<text x="1016" y="1066.80" font-family="Liberation Serif, serif" font-size="14.5">-4</text>
<rect x="66" y="1080" width="6" height="1" fill="#000"/>
<rect x="1001" y="1080" width="6" height="1" fill="#000"/>
<rect x="60" y="1100" width="12" height="1" fill="#000"/>
<rect x="1001" y="1100" width="11" height="1" fill="#000"/>
<text x="56.5" y="1105.80" text-anchor="end" font-family="Liberation Serif, serif" font-size="14.5">-6</text>
<text x="1016" y="1105.80" font-family="Liberation Serif, serif" font-size="14.5">-6</text>
<rect x="66" y="1119" width="6" height="1" fill="#000"/>
<rect x="1001" y="1119" width="6" height="1" fill="#000"/>
<rect x="60" y="1138" width="12" height="1" fill="#000"/>
<rect x="1001" y="1138" width="11" height="1" fill="#000"/>
<text x="56.5" y="1143.80" text-anchor="end" font-family="Liberation Serif, serif" font-size="14.5">-8</text>
<text x="1016" y="1143.80" font-family="Liberation Serif, serif" font-size="14.5">-8</text>
<rect x="66" y="1157" width="6" height="1" fill="#000"/>
<rect x="1001" y="1157" width="6" height="1" fill="#000"/>
<rect x="60" y="1176" width="12" height="1" fill="#000"/>
<rect x="1001" y="1176" width="11" height="1" fill="#000"/>
<text x="56.5" y="1181.80" text-anchor="end" font-family="Liberation Serif, serif" font-size="14.5">-10</text>
<text x="1016" y="1181.80" font-family="Liberation Serif, serif" font-size="14.5">-10</text>
<rect x="71" y="1178" width="2" height="12" fill="#000"/>
<text x="86.06" y="1196" text-anchor="middle" font-family="Liberation Serif, serif" font-size="14.5">90</text>
<rect x="99" y="1178" width="2" height="12" fill="#000"/>
<text x="114.18" y="1196" text-anchor="middle" font-family="Liberation Serif, serif" font-size="14.5">91</text>
<rect x="127" y="1178" width="2" height="12" fill="#000"/>
<text x="142.30" y="1196" text-anchor="middle" font-family="Liberation Serif, serif" font-size="14.5">92</text>
<rect x="155" y="1178" width="2" height="12" fill="#000"/>
<text x="170.42" y="1196" text-anchor="middle" font-family="Liberation Serif, serif" font-size="14.5">93</text>
<rect x="183" y="1178" width="2" height="12" fill="#000"/>
<text x="198.54" y="1196" text-anchor="middle" font-family="Liberation Serif, serif" font-size="14.5">94</text>
<rect x="212" y="1178" width="2" height="12" fill="#000"/>
<text x="226.67" y="1196" text-anchor="middle" font-family="Liberation Serif, serif" font-size="14.5">95</text>
<rect x="240" y="1178" width="2" height="12" fill="#000"/>
<text x="254.79" y="1196" text-anchor="middle" font-family="Liberation Serif, serif" font-size="14.5">96</text>
<rect x="268" y="1178" width="2" height="12" fill="#000"/>
<text x="282.91" y="1196" text-anchor="middle" font-family="Liberation Serif, serif" font-size="14.5">97</text>
<rect x="296" y="1178" width="2" height="12" fill="#000"/>
<text x="311.03" y="1196" text-anchor="middle" font-family="Liberation Serif, serif" font-size="14.5">98</text>
<rect x="324" y="1178" width="2" height="12" fill="#000"/>
<text x="339.15" y="1196" text-anchor="middle" font-family="Liberation Serif, serif" font-size="14.5">99</text>
<rect x="352" y="1178" width="2" height="12" fill="#000"/>
<text x="367.27" y="1196" text-anchor="middle" font-family="Liberation Serif, serif" font-size="14.5">00</text>
<rect x="380" y="1178" width="2" height="12" fill="#000"/>
<text x="395.39" y="1196" text-anchor="middle" font-family="Liberation Serif, serif" font-size="14.5">01</text>
<rect x="408" y="1178" width="2" height="12" fill="#000"/>
<text x="423.51" y="1196" text-anchor="middle" font-family="Liberation Serif, serif" font-size="14.5">02</text>
<rect x="437" y="1178" width="2" height="12" fill="#000"/>
<text x="451.64" y="1196" text-anchor="middle" font-family="Liberation Serif, serif" font-size="14.5">03</text>
<rect x="465" y="1178" width="2" height="12" fill="#000"/>
<text x="479.76" y="1196" text-anchor="middle" font-family="Liberation Serif, serif" font-size="14.5">04</text>
<rect x="493" y="1178" width="2" height="12" fill="#000"/>
<text x="507.88" y="1196" text-anchor="middle" font-family="Liberation Serif, serif" font-size="14.5">05</text>
<rect x="521" y="1178" width="2" height="12" fill="#000"/>
<text x="536.00" y="1196" text-anchor="middle" font-family="Liberation Serif, serif" font-size="14.5">06</text>
<rect x="549" y="1178" width="2" height="12" fill="#000"/>
<text x="564.12" y="1196" text-anchor="middle" font-family="Liberation Serif, serif" font-size="14.5">07</text>
<rect x="577" y="1178" width="2" height="12" fill="#000"/>
<text x="592.24" y="1196" text-anchor="middle" font-family="Liberation Serif, serif" font-size="14.5">08</text>
<rect x="605" y="1178" width="2" height="12" fill="#000"/>
<text x="620.36" y="1196" text-anchor="middle" font-family="Liberation Serif, serif" font-size="14.5">09</text>
<rect x="633" y="1178" width="2" height="12" fill="#000"/>
<text x="648.48" y="1196" text-anchor="middle" font-family="Liberation Serif, serif" font-size="14.5">10</text>
<rect x="662" y="1178" width="2" height="12" fill="#000"/>
<text x="676.61" y="1196" text-anchor="middle" font-family="Liberation Serif, serif" font-size="14.5">11</text>
<rect x="690" y="1178" width="2" height="12" fill="#000"/>
<text x="704.73" y="1196" text-anchor="middle" font-family="Liberation Serif, serif" font-size="14.5">12</text>
<rect x="718" y="1178" width="2" height="12" fill="#000"/>
<text x="732.85" y="1196" text-anchor="middle" font-family="Liberation Serif, serif" font-size="14.5">13</text>
<rect x="746" y="1178" width="2" height="12" fill="#000"/>
<text x="760.97" y="1196" text-anchor="middle" font-family="Liberation Serif, serif" font-size="14.5">14</text>
<rect x="774" y="1178" width="2" height="12" fill="#000"/>
<text x="789.09" y="1196" text-anchor="middle" font-family="Liberation Serif, serif" font-size="14.5">15</text>
<rect x="802" y="1178" width="2" height="12" fill="#000"/>
<text x="817.21" y="1196" text-anchor="middle" font-family="Liberation Serif, serif" font-size="14.5">16</text>
<rect x="830" y="1178" width="2" height="12" fill="#000"/>
<text x="845.33" y="1196" text-anchor="middle" font-family="Liberation Serif, serif" font-size="14.5">17</text>
<rect x="858" y="1178" width="2" height="12" fill="#000"/>
<text x="873.45" y="1196" text-anchor="middle" font-family="Liberation Serif, serif" font-size="14.5">18</text>
<rect x="887" y="1178" width="2" height="12" fill="#000"/>
<text x="901.58" y="1196" text-anchor="middle" font-family="Liberation Serif, serif" font-size="14.5">19</text>
<rect x="915" y="1178" width="2" height="12" fill="#000"/>
<text x="929.70" y="1196" text-anchor="middle" font-family="Liberation Serif, serif" font-size="14.5">20</text>
<rect x="943" y="1178" width="2" height="12" fill="#000"/>
<text x="957.82" y="1196" text-anchor="middle" font-family="Liberation Serif, serif" font-size="14.5">21</text>
<rect x="971" y="1178" width="2" height="12" fill="#000"/>
<text x="985.94" y="1196" text-anchor="middle" font-family="Liberation Serif, serif" font-size="14.5">22</text>
<rect x="999" y="1178" width="2" height="12" fill="#000"/>
<path d="M72.00,954.80 L79.03,967.40 L86.06,984.80 L93.09,998.20 L100.12,1006.10 L107.15,1029.80 L114.18,1033.50 L121.21,1025.90 L128.24,1021.10 L135.27,1013.20 L142.30,994.60 L149.33,989.20 L156.36,973.00 L163.39,945.30 L170.42,931.10 L177.45,922.40 L184.48,916.60 L191.52,921.60 L198.55,911.30 L205.58,901.10 L212.61,910.90 L219.64,914.00 L226.67,948.80 L233.70,949.30 L240.73,952.40 L247.76,957.60 L254.79,937.10 L261.82,942.50 L268.85,924.80 L275.88,912.40 L282.91,921.60 L289.94,926.40 L296.97,939.80 L304.00,943.70 L311.03,942.90 L318.06,951.60 L325.09,937.40 L332.12,952.40 L339.15,951.60 L346.18,941.60 L353.21,957.10 L360.24,944.00 L367.27,951.90 L374.30,962.10 L381.33,977.60 L388.36,988.70 L395.39,1011.90 L402.42,1034.00 L409.45,1047.50 L416.48,1063.30 L423.52,1038.80 L430.55,1024.50 L437.58,1001.60 L444.61,994.50 L451.64,1004.50 L458.67,996.10 L465.70,989.00 L472.73,970.00 L479.76,963.70 L486.79,955.50 L493.82,953.50 L500.85,957.40 L507.88,948.20 L514.91,954.60 L521.94,952.70 L528.97,938.10 L536.00,944.50 L543.03,939.20 L550.06,944.50 L557.09,962.90 L564.12,960.60 L571.15,977.60 L578.18,988.20 L585.21,994.50 L592.24,1013.50 L599.27,1026.70 L606.30,1071.50 L613.33,1109.30 L620.36,1140.50 L627.39,1140.50 L634.42,1091.00 L641.45,1039.00 L648.48,989.80 L655.52,958.30 L662.55,950.40 L669.58,946.40 L676.61,947.40 L683.64,950.40 L690.67,944.40 L697.70,931.20 L704.73,944.40 L711.76,943.00 L718.79,948.40 L725.82,955.30 L732.85,950.90 L739.88,950.60 L746.91,953.20 L753.94,952.40 L760.97,945.30 L768.00,942.10 L775.03,927.60 L782.06,932.70 L789.09,937.40 L796.12,950.40 L803.15,956.70 L810.18,955.60 L817.21,958.70 L824.24,953.80 L831.27,963.70 L838.30,962.40 L845.33,958.30 L852.36,957.60 L859.39,946.10 L866.42,943.40 L873.45,944.50 L880.48,939.80 L887.52,949.70 L894.55,957.60 L901.58,968.70" fill="none" stroke="#f00" stroke-width="3.1" stroke-linejoin="round" stroke-linecap="round"/>
<path d="M72.00,937.39 L79.03,934.19 L86.06,942.63 L93.09,960.14 L100.12,985.57 L107.15,1024.50 L114.18,1008.50 L121.21,992.50 L128.24,962.28 L135.27,919.43 L142.30,914.54 L149.33,908.23 L156.36,889.21 L163.39,916.59 L170.42,929.30 L177.45,930.72 L184.48,928.59 L191.52,910.99 L198.55,888.23 L205.58,896.14 L212.61,894.01 L219.64,901.39 L226.67,928.32 L233.70,917.83 L240.73,930.90 L247.76,925.48 L254.79,894.37 L261.82,893.21 L268.85,885.48 L275.88,888.77 L282.91,887.61 L289.94,883.43 L296.97,888.32 L304.00,877.03 L311.03,894.37 L318.06,893.48 L325.09,872.86 L332.12,873.57 L339.15,878.46 L346.18,876.50 L353.21,877.74 L360.24,892.86 L367.27,865.92 L374.30,895.08 L381.33,922.28 L388.36,938.90 L395.39,967.17 L402.42,978.72 L409.45,991.61 L416.48,958.54 L423.52,963.88 L430.55,943.17 L437.58,944.50 L444.61,957.83 L451.64,946.54 L458.67,908.68 L465.70,881.30 L472.73,889.74 L479.76,889.48 L486.79,915.70 L493.82,922.72 L500.85,898.81 L507.88,912.14 L514.91,913.12 L521.94,918.19 L528.97,911.17 L536.00,915.70 L543.03,930.46 L550.06,922.28 L557.09,949.39 L564.12,936.77 L571.15,929.03 L578.18,941.12 L585.21,968.32 L592.24,974.99 L599.27,1002.54 L606.30,1071.08 L613.33,1080.41 L620.36,1093.48 L627.39,1071.88 L634.42,986.19 L641.45,947.52 L648.48,920.50 L655.52,906.63 L662.55,918.99 L669.58,938.28 L676.61,940.14 L683.64,960.68 L690.67,948.50 L697.70,915.79 L704.73,922.72 L711.76,918.81 L718.79,943.08 L725.82,946.28 L732.85,957.57 L739.88,943.08 L746.91,924.86 L753.94,953.57 L760.97,920.59 L768.00,909.39 L775.03,917.39 L782.06,890.10 L789.09,905.83 L796.12,931.17 L803.15,946.28 L810.18,953.30 L817.21,960.94 L824.24,955.70 L831.27,940.23 L838.30,938.90 L845.33,936.06 L852.36,927.61 L859.39,920.59 L866.42,918.19 L873.45,912.59 L880.48,915.97 L887.52,929.48 L894.55,925.21 L901.58,934.19" fill="none" stroke="#00f" stroke-width="3.1" stroke-linejoin="round" stroke-linecap="round"/>
<rect x="74" y="985" width="925" height="1" fill="#000"/>
<line x1="309.5" y1="1080" x2="340.5" y2="1080" stroke="#00f" stroke-width="3.6" stroke-linecap="round"/>
<line x1="309.5" y1="1108" x2="340.5" y2="1108" stroke="#f00" stroke-width="3.6" stroke-linecap="round"/>
<text x="351" y="1085.7" font-family="Liberation Sans, sans-serif" font-size="17.2">Real NFB Output (2.6)</text>
<text x="351" y="1112.7" font-family="Liberation Sans, sans-serif" font-size="17.2">Hours Worked (0.8)</text>
<text x="906.5" y="939.2" font-family="Liberation Sans, sans-serif" font-size="15" fill="#00f">Q2</text>
<text x="994" y="1169.7" text-anchor="end" font-family="Liberation Serif, serif" font-style="italic" font-size="17">yardeni.com</text>
<text x="72.6" y="1222.8" font-family="Liberation Serif, serif" font-size="15.2">Source: Bureau of Economic Analysis and Bureau of Labor Statistics.</text>
</svg></body></html>
